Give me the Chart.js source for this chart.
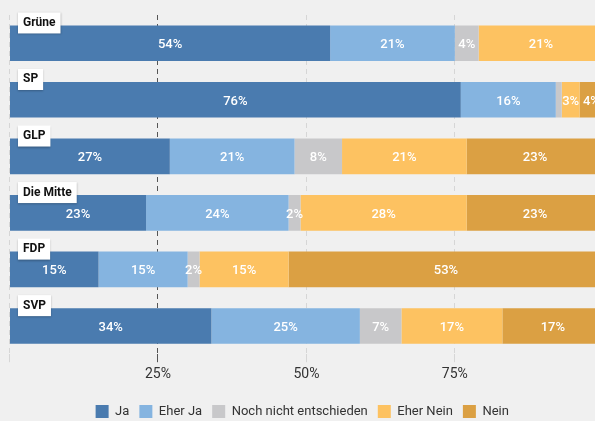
<!DOCTYPE html>
<html>
<head>
<meta charset="utf-8">
<script src="https://cdn.jsdelivr.net/npm/chart.js@4.4.0/dist/chart.umd.min.js"></script>
<style>
  html, body { margin: 0; padding: 0; background: #f0f0f0; }
  #wrap { width: 595px; height: 421px; }
</style>
</head>
<body>
<div id="wrap"><canvas id="chart"></canvas></div>
<script>
// data
const parties = ['Grüne', 'SP', 'GLP', 'Die Mitte', 'FDP', 'SVP'];
const ja = [54, 76, 27, 23, 15, 34];
const eherJa = [21, 16, 21, 24, 15, 25];
const noch = [4, 1, 8, 2, 2, 7];
const eherNein = [21, 3, 21, 28, 15, 17];
const nein = [0, 4, 23, 23, 53, 17];
const xTicks = [0, 25, 50, 75];

const seriesNames = ['Ja', 'Eher Ja', 'Noch nicht entschieden', 'Eher Nein', 'Nein'];
const seriesData = [ja, eherJa, noch, eherNein, nein];
const colors = ['#4a7baf', '#85b4e0', '#c8c8ca', '#fdc261', '#dba043'];

// white value labels inside the segments
const valueLabels = {
    id: 'valueLabels',
    afterDatasetsDraw(chart) {
        const ctx = chart.ctx;
        ctx.save();
        ctx.font = '500 13px Roboto';
        ctx.fillStyle = '#ffffff';
        ctx.textAlign = 'center';
        ctx.textBaseline = 'middle';
        chart.data.datasets.forEach((ds, i) => {
            chart.getDatasetMeta(i).data.forEach((bar, j) => {
                const v = ds.data[j];
                if (v < 2) return;
                ctx.fillText(v + '%', (bar.x + bar.base) / 2, bar.y + 1.5);
            });
        });
        ctx.restore();
    }
};

// party name boxes at top left of each bar
const partyBoxes = {
    id: 'partyBoxes',
    afterDatasetsDraw(chart) {
        const ctx = chart.ctx;
        const meta = chart.getDatasetMeta(0);
        ctx.save();
        ctx.font = 'bold 12px Roboto';
        ctx.textBaseline = 'middle';
        meta.data.forEach((bar, j) => {
            const top = bar.y - bar.height / 2;
            const x = chart.chartArea.left + 8.5;
            const w = ctx.measureText(parties[j]).width + 10;
            ctx.shadowColor = 'rgba(0,0,0,0.25)';
            ctx.shadowBlur = 2;
            ctx.shadowOffsetY = 1;
            ctx.fillStyle = '#ffffff';
            ctx.fillRect(x, top - 13, w, 21);
            ctx.shadowColor = 'transparent';
            ctx.fillStyle = '#111111';
            ctx.fillText(parties[j], x + 5, top - 2.5);
        });
        ctx.restore();
    }
};

new Chart(document.getElementById('chart'), {
    type: 'bar',
    data: {
        labels: parties,
        datasets: seriesNames.map((name, i) => ({
            label: name,
            data: seriesData[i],
            backgroundColor: colors[i],
            borderWidth: 0,
            barPercentage: 0.63,
            categoryPercentage: 1
        }))
    },
    options: {
        indexAxis: 'y',
        responsive: true,
        maintainAspectRatio: false,
        animation: false,
        layout: { padding: { left: 9.5, right: 0, top: 15, bottom: -7 } },
        scales: {
            x: {
                stacked: true,
                min: 0,
                max: 98.6,
                afterBuildTicks(axis) {
                    axis.ticks = xTicks.map(v => ({ value: v }));
                },
                afterFit(axis) {
                    axis.height += 8;
                },
                border: { display: false, dash: [5, 4] },
                grid: {
                    color: ctx => ctx.tick && ctx.tick.value === 25 ? '#555555' : '#d6d6d6',
                    lineWidth: 1,
                    tickLength: 8,
                    drawTicks: true
                },
                ticks: {
                    color: '#333333',
                    font: { family: 'Roboto', size: 14 },
                    padding: 4,
                    maxRotation: 0,
                    callback: v => v === 0 ? '' : v + '%'
                }
            },
            y: {
                stacked: true,
                display: false
            }
        },
        plugins: {
            legend: {
                position: 'bottom',
                labels: {
                    boxWidth: 13,
                    boxHeight: 13,
                    padding: 10,
                    color: '#333333',
                    font: { family: 'Roboto', size: 13 }
                }
            },
            tooltip: { enabled: false }
        }
    },
    plugins: [valueLabels, partyBoxes]
});
</script>
</body>
</html>
